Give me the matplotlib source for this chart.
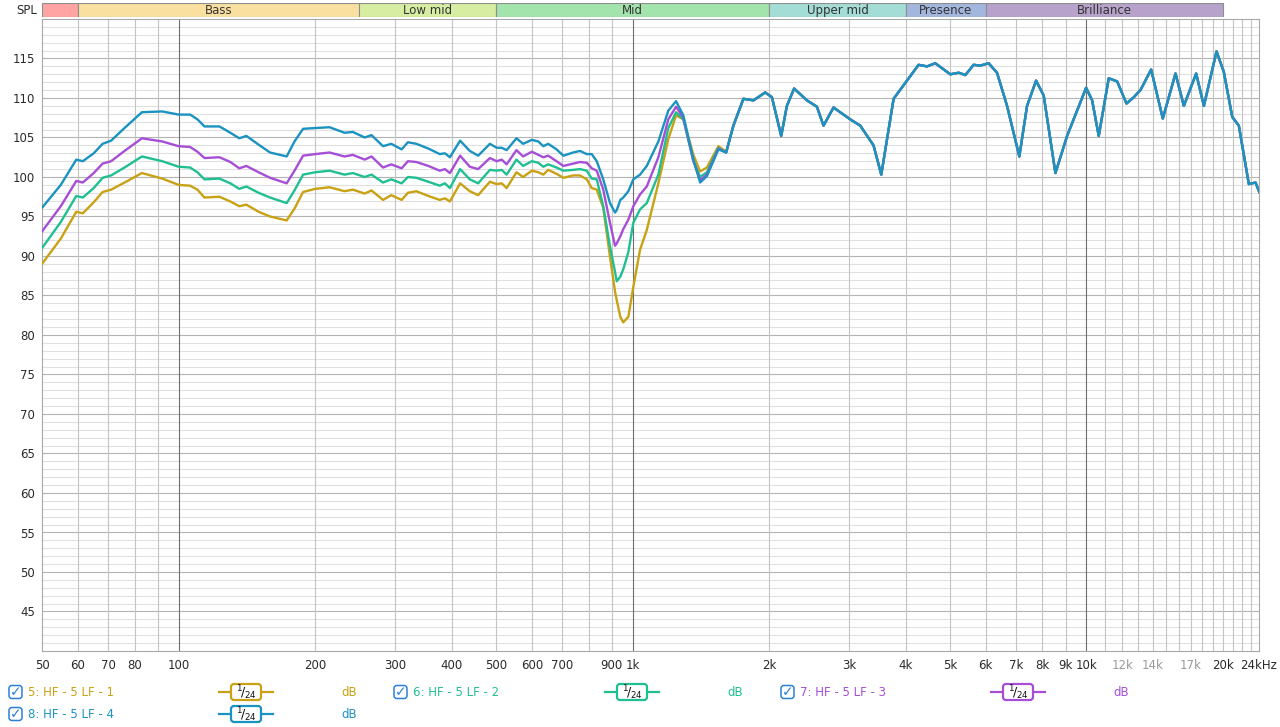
import numpy as np
import matplotlib.pyplot as plt
from matplotlib.patches import FancyBboxPatch, Rectangle

# ---- data ----
# low/mid range, where the four measurements differ
lf_freq = [50, 55, 59.5, 61.5, 65, 68, 71, 76, 83, 92,
           100, 106, 110, 114, 123, 130, 136, 141, 150, 159,
           173, 180, 188, 200, 215, 232, 242, 257, 266, 282,
           294, 310, 320, 334, 355, 376, 386, 396, 417, 438,
           457, 485, 502, 515, 528, 555, 574, 600, 620, 636,
           652, 680, 704, 740, 766, 793, 813, 834, 862, 892,
           915, 923, 940, 954, 979, 1004, 1039, 1075, 1140, 1199,
           1247, 1294, 1362, 1409, 1458, 1546, 1608]

spl_lf_4 = [96.1, 99.0, 102.2, 102.0, 103.0, 104.2, 104.6, 106.2, 108.2, 108.3,
            107.9, 107.9, 107.3, 106.4, 106.4, 105.6, 104.9, 105.2, 104.1, 103.1,
            102.6, 104.5, 106.1, 106.2, 106.3, 105.6, 105.7, 105.0, 105.3, 103.9,
            104.2, 103.5, 104.4, 104.2, 103.6, 102.9, 103.0, 102.5, 104.6, 103.3,
            102.7, 104.2, 103.7, 103.7, 103.4, 104.9, 104.2, 104.7, 104.5, 103.9,
            104.2, 103.5, 102.7, 103.1, 103.3, 102.9, 102.9, 102.0, 99.7, 96.7,
            95.5, 95.8, 97.1, 97.4, 98.2, 99.7, 100.3, 101.4, 104.5, 108.4,
            109.6, 107.8, 102.2, 99.3, 100.1, 103.5, 103.1]

spl_lf_3 = [93.1, 96.3, 99.5, 99.3, 100.5, 101.7, 102.0, 103.3, 104.9, 104.5,
            103.9, 103.8, 103.2, 102.4, 102.5, 101.9, 101.1, 101.4, 100.6, 99.9,
            99.2, 100.8, 102.7, 102.9, 103.1, 102.6, 102.8, 102.2, 102.6, 101.2,
            101.6, 101.1, 102.0, 101.9, 101.4, 100.8, 101.0, 100.5, 102.7, 101.3,
            101.0, 102.4, 102.0, 102.2, 101.6, 103.4, 102.6, 103.2, 102.8, 102.5,
            102.7, 102.0, 101.4, 101.7, 101.9, 101.8, 101.1, 100.8, 98.4, 94.2,
            91.3, 91.6, 92.5, 93.4, 94.6, 96.3, 97.8, 98.8, 102.5, 107.3,
            108.9, 107.5, 102.0, 99.6, 100.3, 103.6, 103.1]

spl_lf_2 = [91.0, 94.3, 97.6, 97.4, 98.6, 99.9, 100.2, 101.2, 102.6, 102.0,
            101.3, 101.2, 100.6, 99.7, 99.8, 99.2, 98.5, 98.8, 98.0, 97.4,
            96.7, 98.3, 100.3, 100.6, 100.8, 100.3, 100.5, 100.0, 100.3, 99.3,
            99.7, 99.2, 100.0, 99.9, 99.4, 98.9, 99.2, 98.6, 101.0, 99.7,
            99.2, 100.9, 100.8, 100.9, 100.3, 102.2, 101.4, 102.0, 101.8, 101.3,
            101.6, 101.2, 100.8, 100.9, 101.0, 100.8, 99.8, 99.7, 96.3, 91.2,
            88.0, 86.8, 87.4, 88.3, 90.5, 94.2, 95.9, 96.7, 100.3, 106.2,
            108.2, 107.3, 102.0, 100.0, 100.6, 103.7, 103.1]

spl_lf_1 = [89.0, 92.2, 95.6, 95.4, 96.8, 98.1, 98.4, 99.3, 100.5, 99.8,
            99.0, 98.9, 98.4, 97.4, 97.5, 96.9, 96.3, 96.5, 95.6, 95.0,
            94.5, 96.0, 98.1, 98.5, 98.7, 98.2, 98.4, 97.9, 98.3, 97.1,
            97.7, 97.1, 98.0, 98.2, 97.6, 97.1, 97.3, 96.9, 99.2, 98.2,
            97.7, 99.4, 99.1, 99.2, 98.6, 100.6, 100.0, 100.8, 100.6, 100.3,
            100.9, 100.4, 99.9, 100.2, 100.2, 99.7, 98.6, 98.4, 96.1, 89.9,
            85.5, 84.4, 82.3, 81.6, 82.3, 86.1, 90.8, 93.3, 99.2, 104.8,
            107.8, 107.3, 102.8, 100.7, 101.2, 103.9, 103.2]

# upper range, where all four measurements overlap
hf_freq = [1668, 1755, 1847, 1960, 2028, 2126, 2188, 2270, 2422, 2548,
           2635, 2772, 3017, 3175, 3396, 3532, 3760, 4023, 4268, 4454,
           4645, 5013, 5231, 5411, 5642, 5838, 6089, 6353, 6686, 7115,
           7399, 7747, 8052, 8545, 9066, 9539, 9985, 10294, 10645, 11199,
           11687, 12253, 12716, 13153, 13887, 14732, 15713, 16391, 17449, 18146,
           19348, 20077, 20955, 21667, 22794, 23584, 24068]
hf_spl = [106.5, 109.9, 109.7, 110.7, 110.1, 105.2, 109.0, 111.2, 109.7, 108.9,
          106.5, 108.8, 107.3, 106.5, 104.0, 100.3, 109.9, 112.2, 114.2, 114.0,
          114.4, 113.0, 113.2, 112.9, 114.2, 114.1, 114.4, 113.2, 109.0, 102.6,
          109.0, 112.2, 110.3, 100.5, 105.2, 108.4, 111.3, 109.7, 105.2, 112.5,
          112.1, 109.3, 110.1, 111.0, 113.6, 107.4, 113.1, 109.0, 113.1, 109.0,
          115.9, 113.3, 107.6, 106.5, 99.1, 99.3, 98.0]

series_names = ['5: HF - 5 LF - 1', '6: HF - 5 LF - 2', '7: HF - 5 LF - 3', '8: HF - 5 LF - 4']
series_lf = [spl_lf_1, spl_lf_2, spl_lf_3, spl_lf_4]
series_colors = ['#c9a114', '#20bf92', '#a64fd6', '#1a93c0']

band_edges = [50, 60, 250, 500, 2000, 4000, 6000, 20000]
band_names = ['', 'Bass', 'Low mid', 'Mid', 'Upper mid', 'Presence', 'Brilliance']
band_colors = ['#ffa3a3', '#f9e0a1', '#d7eea2', '#a3e3ac', '#a3ddd6', '#a3b6de', '#b6a2ca']

xtick_values = [50, 60, 70, 80, 100, 200, 300, 400, 500, 600, 700, 900, 1000,
                2000, 3000, 4000, 5000, 6000, 7000, 8000, 9000, 10000,
                12000, 14000, 17000, 20000, 24000]
xtick_labels = ['50', '60', '70', '80', '100', '200', '300', '400', '500', '600', '700',
                '900', '1k', '2k', '3k', '4k', '5k', '6k', '7k', '8k', '9k', '10k',
                '12k', '14k', '17k', '20k', '24kHz']
faint_labels = ['12k', '14k', '17k']
ytick_values = list(range(45, 120, 5))

W, H = 1280, 727
fig = plt.figure(figsize=(W / 100, H / 100), dpi=100)
fig.patch.set_facecolor('white')

ax = fig.add_axes([42 / W, 76 / H, 1217 / W, 632 / H])
ax.set_xscale('log')
ax.set_xlim(50, 24000)
ax.set_ylim(40, 120)

# grid
for db in range(41, 120):
    c = '#b4b4b4' if db % 5 == 0 else '#e0e0e0'
    ax.axhline(db, color=c, lw=0.8, zorder=0)
grid_freqs = (list(range(60, 100, 10)) + list(range(200, 1000, 100)) +
              list(range(2000, 10000, 1000)) + list(range(11000, 24000, 1000)))
for f in grid_freqs:
    ax.axvline(f, color='#c4c4c4', lw=0.8, zorder=0)
for f in [100, 1000, 10000]:
    ax.axvline(f, color='#6e6e6e', lw=0.8, zorder=0)

for lf, col in zip(series_lf, series_colors):
    ax.plot(lf_freq + hf_freq, lf + hf_spl, color=col, lw=1.7,
            solid_joinstyle='round', solid_capstyle='round', zorder=3)

ax.set_xticks(xtick_values)
ax.set_xticklabels(xtick_labels)
ax.minorticks_off()
ax.set_yticks(ytick_values)
ax.tick_params(length=0, labelsize=8.5, colors='#2a2a2a')
ax.tick_params(axis='x', pad=6)
ax.tick_params(axis='y', pad=5)
for lbl in ax.get_xticklabels():
    if lbl.get_text() in faint_labels:
        lbl.set_color('#9a9a9a')
for s in ax.spines.values():
    s.set_color('#a8a8a8')
    s.set_linewidth(0.8)

# frequency band header
hx = fig.add_axes([42 / W, 1 - 17 / H, 1217 / W, 14 / H])
hx.set_xscale('log')
hx.set_xlim(50, 24000)
hx.set_ylim(0, 1)
hx.axis('off')
for lo, hi, name, col in zip(band_edges[:-1], band_edges[1:], band_names, band_colors):
    hx.add_patch(Rectangle((lo, 0), hi - lo, 1, facecolor=col, edgecolor='#8e8e8e', lw=0.8))
    hx.text(np.sqrt(lo * hi), 0.45, name, ha='center', va='center', fontsize=8.5, color='#333333')
fig.text(37 / W, 1 - 10 / H, 'SPL', ha='right', va='center', fontsize=8.5, color='#2a2a2a')

# legend drawn in pixel coordinates
lg = fig.add_axes([0, 0, 1, 1])
lg.set_xlim(0, W)
lg.set_ylim(H, 0)
lg.axis('off')

legend_pos = [(9, 246, 349, 692), (394, 632, 735, 692), (781, 1018, 1121, 692), (9, 246, 349, 714)]
for (xc, xb, xd, y), name, col in zip(legend_pos, series_names, series_colors):
    lg.add_patch(FancyBboxPatch((xc, y - 6.5), 13, 13, boxstyle='round,pad=0,rounding_size=3',
                                facecolor='white', edgecolor='#2b80d8', lw=1.1))
    lg.text(xc + 6.5, y + 0.5, '\u2713', ha='center', va='center', fontsize=10,
            color='#2b80d8', fontweight='bold')
    lg.text(xc + 19, y, name, ha='left', va='center', fontsize=8.5, color=col)
    lg.plot([xb - 27, xb + 27], [y, y], color=col, lw=1.6)
    lg.add_patch(FancyBboxPatch((xb - 15, y - 8), 30, 16, boxstyle='round,pad=0,rounding_size=3',
                                facecolor='white', edgecolor=col, lw=1.6, zorder=3))
    lg.text(xb, y + 1, r'$^{1}\!/_{24}$', ha='center', va='center', fontsize=9,
            color='#111111', zorder=4)
    lg.text(xd, y, 'dB', ha='center', va='center', fontsize=8.5, color=col)

fig.savefig('out.png', dpi=100)
